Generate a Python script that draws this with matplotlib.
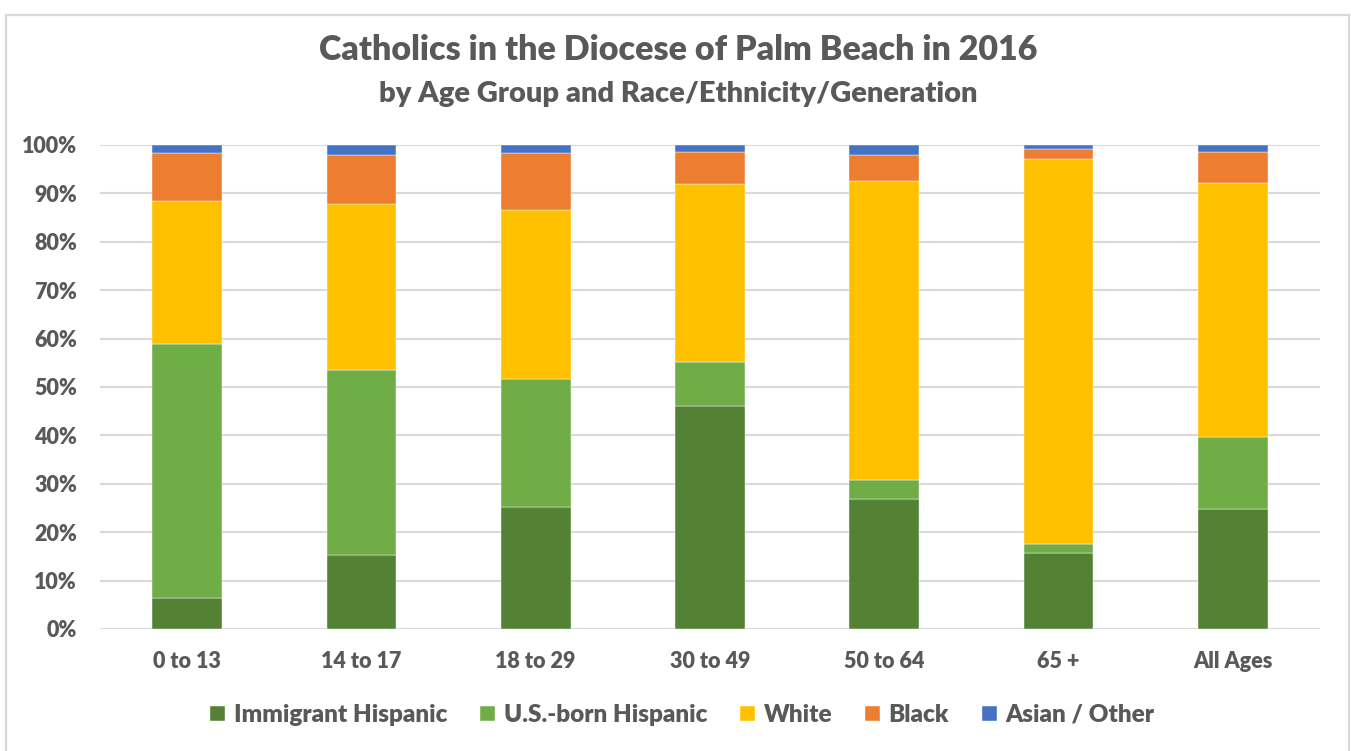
import numpy as np
import matplotlib.pyplot as plt
from matplotlib.patches import Rectangle

groups = ['0 to 13', '14 to 17', '18 to 29', '30 to 49', '50 to 64', '65 +', 'All Ages']
immigrant = [6.3, 15.2, 25.3, 46.0, 26.8, 15.6, 24.7]
usborn = [52.5, 38.2, 26.3, 9.1, 4.0, 1.9, 14.9]
white = [29.7, 34.5, 35.0, 36.8, 61.8, 79.5, 52.6]
black = [9.9, 10.0, 11.8, 6.7, 5.3, 2.1, 6.4]
asian = [1.6, 2.1, 1.6, 1.4, 2.1, 0.9, 1.4]

names = ['Immigrant Hispanic', 'U.S.-born Hispanic', 'White', 'Black', 'Asian / Other']
colors = ['#548235', '#70AD47', '#FFC000', '#ED7D31', '#4472C4']
txt = '#595959'

plt.rcParams['font.family'] = ['Lato', 'DejaVu Sans']

fig = plt.figure(figsize=(13.51, 7.51), dpi=100)
ax = fig.add_axes([0.074, 0.1625, 0.903, 0.6445])

x = np.arange(len(groups))
bottom = np.zeros(len(groups))
for vals, name, c in zip([immigrant, usborn, white, black, asian], names, colors):
    v = np.array(vals) / 100
    ax.bar(x, v, 0.4, bottom=bottom, color=c, label=name, edgecolor='white', linewidth=0.3, zorder=3)
    bottom += v

ax.set_xlim(-0.5, len(groups) - 0.5)
ax.set_ylim(0, 1)
ax.set_yticks(np.arange(0, 1.01, 0.1))
ax.set_yticklabels([f'{int(round(t*100))}%' for t in np.arange(0, 1.01, 0.1)])
ax.set_xticks(x)
ax.set_xticklabels(groups)
ax.grid(axis='y', color='#d9d9d9', linewidth=1.5, zorder=0)
for s in ax.spines.values():
    s.set_visible(False)
ax.tick_params(length=0, colors=txt, labelsize=15.5)
ax.tick_params(axis='y', pad=16.5)
ax.tick_params(axis='x', pad=16)
for lab in ax.get_xticklabels() + ax.get_yticklabels():
    lab.set_fontweight('heavy')

fig.text(0.502, 0.933, 'Catholics in the Diocese of Palm Beach in 2016', ha='center', va='center',
         fontsize=24.5, fontweight='heavy', color=txt)
fig.text(0.502, 0.875, 'by Age Group and Race/Ethnicity/Generation', ha='center', va='center',
         fontsize=21, fontweight='heavy', color=txt)

leg = fig.legend(loc='center', bbox_to_anchor=(0.505, 0.048), ncol=5, frameon=False,
                 handlelength=0.62, handleheight=0.62, handletextpad=0.35, columnspacing=1.35,
                 prop={'size': 17.5, 'weight': 'heavy'})
for t in leg.get_texts():
    t.set_color(txt)

fig.patches.append(Rectangle((0.0045, -0.02), 0.994, 1.0, transform=fig.transFigure,
                             fill=False, edgecolor='#d9d9d9', linewidth=1.6))

fig.savefig('out.png', dpi=100)
